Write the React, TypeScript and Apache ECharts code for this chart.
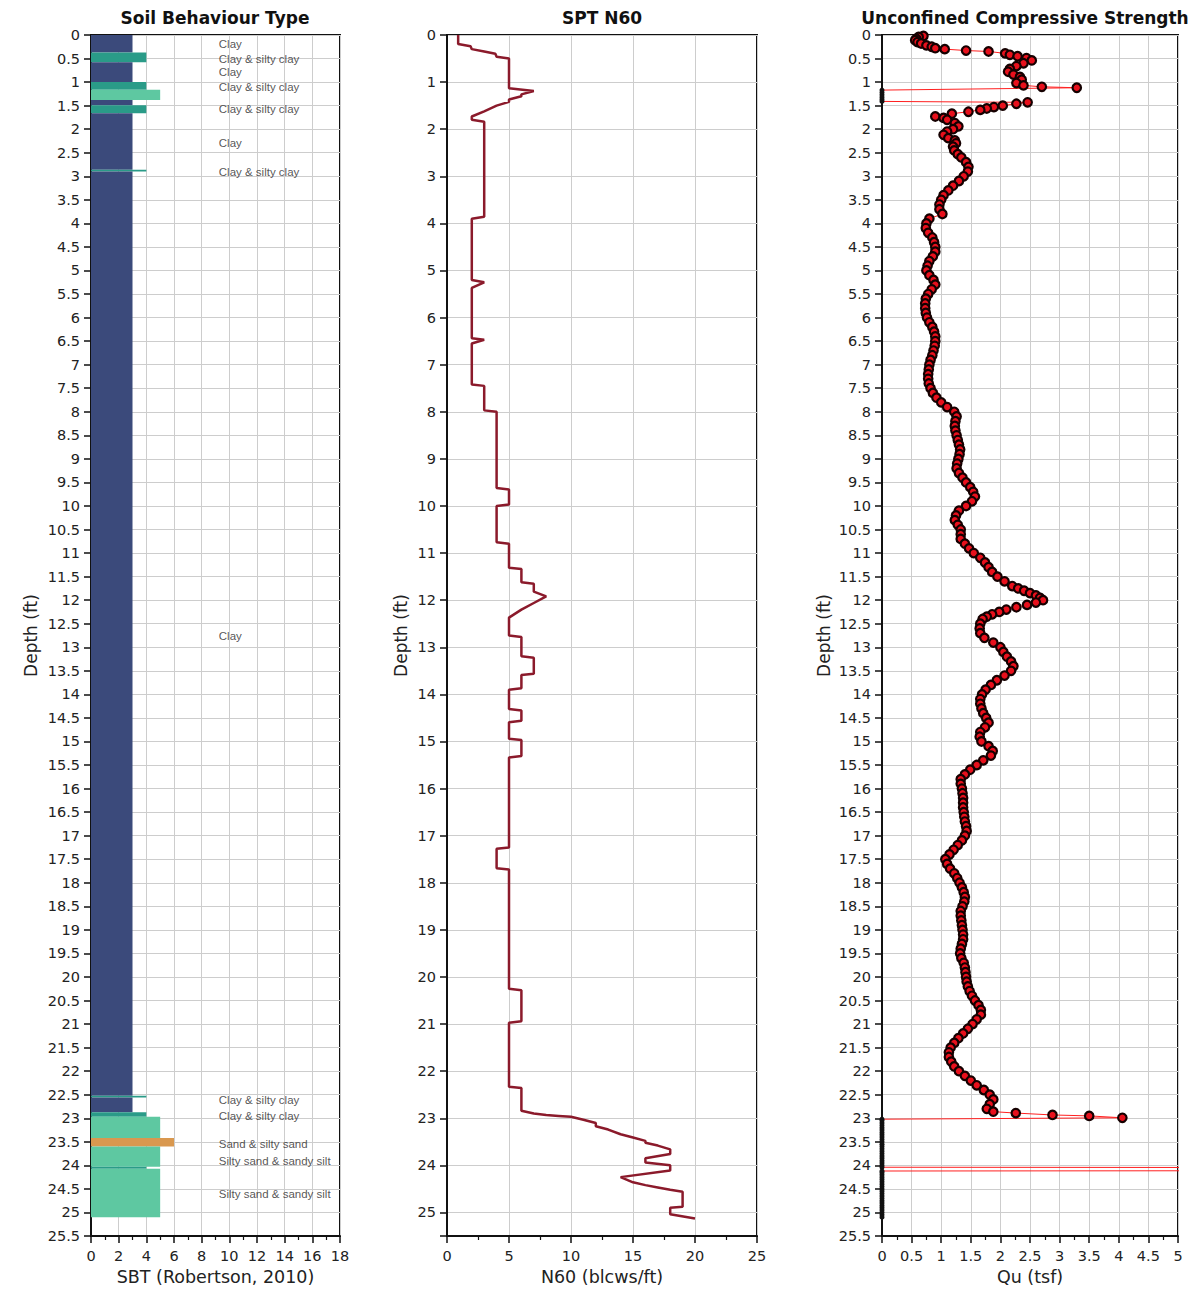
import React, { useEffect, useRef } from 'react';
import * as echarts from 'echarts';

// ---------- Data ----------
const depthMax = 25.5;

// Soil Behaviour Type layers: [top depth ft, bottom depth ft, SBT zone]
const sbtLayers: [number, number, number][] = [
  [0, 0.37, 3], [0.37, 0.58, 4], [0.58, 1.0, 3], [1.0, 1.16, 4], [1.16, 1.38, 5],
  [1.38, 1.49, 3], [1.49, 1.66, 4], [1.66, 2.86, 3], [2.86, 2.9, 4], [2.9, 22.52, 3],
  [22.52, 22.56, 4], [22.56, 22.87, 3], [22.87, 22.97, 4], [22.97, 23.42, 5], [23.42, 23.6, 6],
  [23.6, 24.03, 5], [24.03, 24.07, 4], [24.07, 25.1, 5],
];
const sbtZoneColors: Record<number, string> = { 3: '#3b4a7b', 4: '#2a9b88', 5: '#5ec8a1', 6: '#d9984f' };

const sbtLabelDepths = [0.19, 0.51, 0.79, 1.1, 1.57, 2.29, 2.91, 12.76, 22.61, 22.95, 23.55, 23.9, 24.61];
const sbtLabelTexts = [
  'Clay', 'Clay & silty clay', 'Clay', 'Clay & silty clay', 'Clay & silty clay', 'Clay',
  'Clay & silty clay', 'Clay', 'Clay & silty clay', 'Clay & silty clay', 'Sand & silty sand',
  'Silty sand & sandy silt', 'Silty sand & sandy silt',
];

// SPT N60 profile: [N60 blows/ft, depth ft]
const n60Profile: [number, number][] = [
  [0.9, 0], [0.9, 0.19], [1.9, 0.24], [2, 0.3], [3, 0.35], [3.9, 0.4], [4, 0.46], [5, 0.5],
  [5, 1.13], [7, 1.19], [6, 1.26], [6, 1.3], [5, 1.37], [5, 1.42], [4, 1.5], [3, 1.62], [2, 1.73], [2, 1.8], [3, 1.84],
  [3, 3.86], [2, 3.9], [2, 5.2], [3, 5.25], [2, 5.37], [2, 6.44], [3, 6.47], [2, 6.55],
  [2, 7.42], [3, 7.45], [3, 7.97], [4, 8.0], [4, 9.62], [5, 9.65], [5, 9.97], [4, 10.0],
  [4, 10.77], [5, 10.8], [5, 11.31], [6, 11.34], [6, 11.62], [7, 11.65], [7, 11.82], [8, 11.92],
  [7, 12.06], [6, 12.2], [5, 12.37], [5, 12.75], [6, 12.78], [6, 13.19], [7, 13.22], [7, 13.56],
  [6, 13.59], [6, 13.87], [5, 13.9], [5, 14.31], [6, 14.34], [6, 14.56], [5, 14.59], [5, 14.94],
  [6, 14.97], [6, 15.31], [5, 15.34], [5, 17.25], [4, 17.28], [4, 17.69], [5, 17.72], [5, 20.25],
  [6, 20.28], [6, 20.94], [5, 20.97], [5, 22.33], [6, 22.36], [6, 22.84], [7, 22.9], [8, 22.93],
  [9, 22.95], [10, 22.97], [11, 23.03], [12, 23.1], [12, 23.17], [13, 23.24], [14, 23.34],
  [15, 23.41], [16, 23.48], [16, 23.52], [17, 23.58], [18, 23.66], [18, 23.76], [16, 23.85],
  [16, 23.94], [18, 24.0], [18, 24.11], [14, 24.25], [15, 24.36], [16, 24.42], [17, 24.47],
  [18, 24.52], [19, 24.56], [19, 24.88], [18, 24.9], [18, 25.04], [20, 25.13],
];

// Unconfined compressive strength: [depth ft, Qu tsf]
const quProfile: [number, number][] = [
  [0.02, 0.7], [0.04, 0.62], [0.08, 0.58], [0.11, 0.56], [0.15, 0.6], [0.18, 0.66], [0.22, 0.75],
  [0.25, 0.84], [0.28, 0.9], [0.3, 1.06], [0.33, 1.42], [0.35, 1.8], [0.39, 2.08], [0.42, 2.16],
  [0.45, 2.29], [0.49, 2.44], [0.54, 2.53], [0.6, 2.39], [0.66, 2.27], [0.72, 2.16], [0.78, 2.13],
  [0.84, 2.22], [0.89, 2.33], [0.95, 2.36], [1.02, 2.27], [1.07, 2.39], [1.1, 2.7], [1.12, 3.29],
  [1.17, 0], [1.22, 0], [1.27, 0], [1.32, 0], [1.37, 0], [1.41, 0], [1.43, 2.46], [1.46, 2.27],
  [1.5, 2.04], [1.53, 1.89], [1.56, 1.77], [1.59, 1.66], [1.63, 1.46], [1.67, 1.18], [1.73, 0.9],
  [1.76, 1.04], [1.8, 1.1], [1.87, 1.23], [1.94, 1.29], [2.0, 1.2], [2.05, 1.1], [2.12, 1.04],
  [2.19, 1.12], [2.24, 1.23], [2.3, 1.25], [2.37, 1.2], [2.45, 1.22], [2.53, 1.28], [2.6, 1.34],
  [2.7, 1.42], [2.8, 1.46], [2.9, 1.45], [3.0, 1.38], [3.1, 1.3], [3.2, 1.2], [3.3, 1.12],
  [3.4, 1.04], [3.5, 1.0], [3.6, 0.97], [3.7, 0.97], [3.8, 1.02], [3.9, 0.8], [4.0, 0.75],
  [4.1, 0.74], [4.2, 0.78], [4.3, 0.85], [4.4, 0.88], [4.5, 0.9], [4.6, 0.9], [4.7, 0.86],
  [4.8, 0.8], [4.9, 0.77], [5.0, 0.75], [5.1, 0.8], [5.2, 0.87], [5.3, 0.9], [5.4, 0.84],
  [5.5, 0.78], [5.6, 0.74], [5.7, 0.73], [5.8, 0.73], [5.9, 0.74], [6.0, 0.76], [6.1, 0.8],
  [6.2, 0.85], [6.3, 0.88], [6.4, 0.9], [6.5, 0.9], [6.6, 0.89], [6.7, 0.87], [6.8, 0.85],
  [6.9, 0.82], [7.0, 0.8], [7.1, 0.79], [7.2, 0.78], [7.3, 0.78], [7.4, 0.79], [7.5, 0.82],
  [7.6, 0.86], [7.7, 0.92], [7.8, 1.0], [7.9, 1.1], [8.0, 1.22], [8.1, 1.26], [8.2, 1.24],
  [8.3, 1.23], [8.4, 1.24], [8.5, 1.26], [8.6, 1.28], [8.7, 1.3], [8.8, 1.32], [8.9, 1.31],
  [9.0, 1.29], [9.1, 1.27], [9.2, 1.26], [9.3, 1.3], [9.4, 1.36], [9.5, 1.42], [9.6, 1.49],
  [9.7, 1.54], [9.8, 1.57], [9.9, 1.52], [10.0, 1.42], [10.1, 1.3], [10.2, 1.25], [10.3, 1.23],
  [10.4, 1.28], [10.5, 1.33], [10.6, 1.33], [10.7, 1.33], [10.8, 1.4], [10.9, 1.47], [11.0, 1.55],
  [11.1, 1.66], [11.2, 1.74], [11.3, 1.8], [11.4, 1.86], [11.5, 1.95], [11.6, 2.07], [11.7, 2.2],
  [11.75, 2.3], [11.8, 2.4], [11.85, 2.5], [11.9, 2.6], [11.95, 2.67], [12.0, 2.72], [12.05, 2.6],
  [12.1, 2.45], [12.15, 2.27], [12.2, 2.1], [12.25, 1.98], [12.3, 1.86], [12.35, 1.77], [12.4, 1.7],
  [12.5, 1.66], [12.6, 1.65], [12.7, 1.66], [12.8, 1.73], [12.9, 1.88], [13.0, 2.0], [13.1, 2.05],
  [13.2, 2.11], [13.3, 2.18], [13.4, 2.22], [13.5, 2.18], [13.6, 2.07], [13.7, 1.94], [13.8, 1.84],
  [13.9, 1.75], [14.0, 1.69], [14.1, 1.66], [14.2, 1.66], [14.3, 1.68], [14.4, 1.71], [14.5, 1.76],
  [14.6, 1.8], [14.7, 1.74], [14.8, 1.66], [14.9, 1.65], [15.0, 1.68], [15.1, 1.8], [15.2, 1.87],
  [15.3, 1.84], [15.4, 1.71], [15.5, 1.6], [15.6, 1.49], [15.7, 1.4], [15.8, 1.33], [15.9, 1.33],
  [16.0, 1.35], [16.1, 1.36], [16.2, 1.37], [16.3, 1.37], [16.4, 1.37], [16.5, 1.38], [16.6, 1.39],
  [16.7, 1.4], [16.8, 1.42], [16.9, 1.43], [17.0, 1.4], [17.1, 1.35], [17.2, 1.28], [17.3, 1.21],
  [17.4, 1.14], [17.5, 1.07], [17.6, 1.1], [17.7, 1.15], [17.8, 1.22], [17.9, 1.27], [18.0, 1.31],
  [18.1, 1.35], [18.2, 1.38], [18.3, 1.4], [18.4, 1.39], [18.5, 1.36], [18.6, 1.33], [18.7, 1.33],
  [18.8, 1.34], [18.9, 1.35], [19.0, 1.36], [19.1, 1.37], [19.2, 1.37], [19.3, 1.35], [19.4, 1.33],
  [19.5, 1.32], [19.6, 1.34], [19.7, 1.38], [19.8, 1.4], [19.9, 1.41], [20.0, 1.42], [20.1, 1.43],
  [20.2, 1.45], [20.3, 1.48], [20.4, 1.52], [20.5, 1.57], [20.6, 1.63], [20.7, 1.67], [20.8, 1.67],
  [20.9, 1.6], [21.0, 1.53], [21.1, 1.45], [21.2, 1.37], [21.3, 1.29], [21.4, 1.22], [21.5, 1.16],
  [21.6, 1.13], [21.7, 1.13], [21.8, 1.17], [21.9, 1.22], [22.0, 1.3], [22.1, 1.4], [22.2, 1.5],
  [22.3, 1.6], [22.4, 1.72], [22.5, 1.82], [22.6, 1.88], [22.7, 1.82], [22.8, 1.77], [22.86, 1.88],
  [22.89, 2.26], [22.93, 2.88], [22.95, 3.5], [22.99, 4.06], [23.02, 0], [23.05, 0], [23.1, 0],
  [23.15, 0], [23.2, 0], [23.25, 0], [23.3, 0], [23.35, 0], [23.4, 0], [23.45, 0], [23.5, 0],
  [23.55, 0], [23.6, 0], [23.65, 0], [23.7, 0], [23.75, 0], [23.8, 0], [23.85, 0], [23.9, 0],
  [23.95, 0], [24.0, 0], [24.04, 0], [24.08, 40], [24.12, 0], [24.15, 0], [24.2, 0], [24.25, 0],
  [24.3, 0], [24.35, 0], [24.4, 0], [24.45, 0], [24.5, 0], [24.55, 0], [24.6, 0], [24.65, 0],
  [24.7, 0], [24.75, 0], [24.8, 0], [24.85, 0], [24.9, 0], [24.95, 0], [25.0, 0], [25.05, 0], [25.1, 0],
];

const titles = ['Soil Behaviour Type', 'SPT N60', 'Unconfined Compressive Strength'];
const xAxisNames = ['SBT (Robertson, 2010)', 'N60 (blcws/ft)', 'Qu (tsf)'];
const xMax = [18, 25, 5];
const xInterval = [2, 5, 0.5];
const yInterval = [0.5, 1, 0.5];

// ---------- Styling ----------
const FONT = 'DejaVu Sans, Verdana, sans-serif';
const grids = [
  { left: 91, top: 35, width: 249, height: 1201 },
  { left: 447, top: 35, width: 310, height: 1201 },
  { left: 882, top: 35, width: 296, height: 1201 },
];
const titleCenters = [215, 602, 1025];
const yNameGaps = [52, 38, 50];

function buildOption() {
  const axisLine = { show: true, onZero: false, lineStyle: { color: '#111', width: 2 } };
  const axisTick = { show: true, length: 7, lineStyle: { color: '#111', width: 1.5 } };
  const splitLine = { show: true, lineStyle: { color: '#cdcdcd', width: 1 } };

  const xAxis = grids.map((_, i) => ({
    type: 'value',
    gridIndex: i,
    min: 0,
    max: xMax[i],
    interval: xInterval[i],
    position: 'bottom',
    axisLine,
    axisTick,
    minorTick: { show: true, splitNumber: 2, length: 4, lineStyle: { color: '#111', width: 1.2 } },
    splitLine,
    axisLabel: { color: '#222', fontFamily: FONT, fontSize: 14.5, margin: 12, showMaxLabel: true, showMinLabel: true },
    name: xAxisNames[i],
    nameLocation: 'middle',
    nameGap: 30,
    nameTextStyle: { color: '#222', fontFamily: FONT, fontSize: 17.5 },
  }));

  const yAxis = grids.map((_, i) => ({
    type: 'value',
    gridIndex: i,
    min: 0,
    max: depthMax,
    interval: yInterval[i],
    inverse: true,
    axisLine,
    axisTick,
    splitLine,
    axisLabel: {
      color: '#222',
      fontFamily: FONT,
      fontSize: 14.5,
      margin: 11,
      showMaxLabel: true,
      formatter: (v: number) => (i === 1 && v > 25 ? '' : String(v)),
    },
    name: 'Depth (ft)',
    nameLocation: 'middle',
    nameRotate: 90,
    nameGap: yNameGaps[i],
    nameTextStyle: { color: '#222', fontFamily: FONT, fontSize: 17 },
  }));

  const series: any[] = [
    {
      type: 'custom',
      xAxisIndex: 0,
      yAxisIndex: 0,
      clip: true,
      encode: { x: 2, y: [0, 1] },
      data: sbtLayers,
      renderItem: (_params: any, api: any) => {
        const top = api.value(0);
        const bot = api.value(1);
        const zone = api.value(2);
        const p0 = api.coord([0, top]);
        const p1 = api.coord([zone, bot]);
        return {
          type: 'rect',
          shape: { x: p0[0], y: p0[1], width: p1[0] - p0[0], height: p1[1] - p0[1] },
          style: { fill: sbtZoneColors[zone] },
        };
      },
    },
    {
      type: 'scatter',
      xAxisIndex: 0,
      yAxisIndex: 0,
      symbolSize: 1,
      itemStyle: { color: 'rgba(0,0,0,0)' },
      data: sbtLabelDepths.map((d, k) => ({ value: [9.2, d], name: sbtLabelTexts[k] })),
      label: {
        show: true,
        position: 'right',
        distance: 0,
        formatter: (p: any) => p.name,
        color: '#2a2a2a',
        fontFamily: 'Liberation Sans Narrow, Liberation Sans, Arial, sans-serif',
        fontSize: 11.5,
      },
      z: 5,
    },
    {
      type: 'line',
      xAxisIndex: 1,
      yAxisIndex: 1,
      symbol: 'none',
      clip: true,
      lineStyle: { color: '#8b1a2b', width: 2.5 },
      data: n60Profile,
    },
    {
      type: 'line',
      xAxisIndex: 2,
      yAxisIndex: 2,
      clip: true,
      symbol: 'circle',
      symbolSize: 8.5,
      showAllSymbol: true,
      lineStyle: { color: '#ff2020', width: 1 },
      itemStyle: { color: '#e8101c', borderColor: '#150000', borderWidth: 2.2 },
      data: quProfile.map(([d, q]) =>
        q === 0
          ? { value: [q, d], symbolSize: 5, itemStyle: { color: '#111', borderWidth: 0 } }
          : { value: [q, d] }
      ),
    },
  ];

  return {
    animation: false,
    backgroundColor: '#ffffff',
    grid: grids.map((g) => ({
      ...g,
      show: true,
      borderColor: '#111',
      borderWidth: 2,
      backgroundColor: 'transparent',
      containLabel: false,
      outerBoundsMode: 'none',
    })),
    xAxis,
    yAxis,
    series,
    graphic: titles.map((t, i) => ({
      type: 'text',
      x: titleCenters[i],
      y: 18,
      style: {
        text: t,
        textAlign: 'center',
        textVerticalAlign: 'middle',
        fontFamily: FONT,
        fontWeight: 'bold',
        fontSize: 17,
        fill: '#111',
      },
    })),
  };
}

export default function App() {
  const ref = useRef<HTMLDivElement>(null);
  useEffect(() => {
    document.body.style.margin = '0';
    const chart = echarts.init(ref.current as HTMLDivElement, undefined, { renderer: 'svg' });
    chart.setOption(buildOption() as any);
    return () => chart.dispose();
  }, []);
  return <div ref={ref} style={{ width: 1192, height: 1292, background: '#fff' }} />;
}
